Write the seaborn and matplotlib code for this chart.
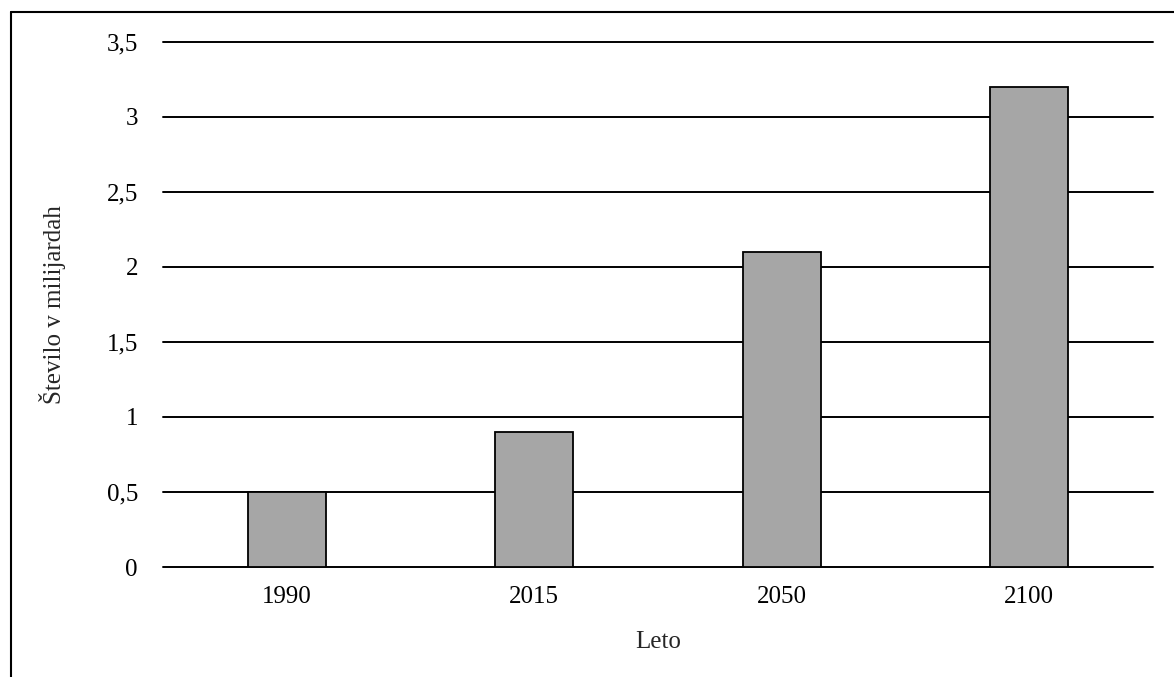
import numpy as np
import pandas as pd
import matplotlib
matplotlib.use("Agg")
import matplotlib.pyplot as plt
import seaborn as sns
from matplotlib.lines import Line2D

years = ["1990", "2015", "2050", "2100"]
values = [0.5, 0.9, 2.1, 3.2]
yticks = [0, 0.5, 1, 1.5, 2, 2.5, 3, 3.5]
ytick_labels = ["0", "0,5", "1", "1,5", "2", "2,5", "3", "3,5"]

df = pd.DataFrame({"Leto": years, "Stevilo": values})

sns.set_style("white")
plt.rcParams['font.family'] = ['Liberation Serif', 'DejaVu Serif']
plt.rcParams['font.size'] = 18

fig = plt.figure(figsize=(11.74, 6.77), dpi=100)
ax = fig.add_axes([163/1174, 1 - 567/677, 990/1174, (567 - 41.7)/677])

sns.barplot(data=df, x="Leto", y="Stevilo", color="#a6a6a6", saturation=1,
            width=0.315, edgecolor="black", linewidth=1.3, ax=ax)

ax.set_ylim(0, 3.5)
ax.set_xlim(-0.5, 3.5)
ax.set_yticks(yticks)
ax.set_yticklabels(ytick_labels)
ax.set_axisbelow(True)
ax.yaxis.grid(True, color="black", linewidth=1.4)
for gl in ax.get_ygridlines():
    gl.set_clip_on(False)
for s in ax.spines.values():
    s.set_visible(False)
ax.tick_params(axis="both", length=0, colors="black", labelsize=18)
ax.tick_params(axis="y", pad=18)
ax.tick_params(axis="x", pad=14)

ax.set_xlabel("Leto", fontsize=18)
ax.set_ylabel("Število v milijardah", fontsize=18)
ax.xaxis.set_label_coords(0.5, -0.121)
ax.yaxis.set_label_coords(-0.098, 0.5)

# outer frame (only top and left visible in the crop)
fig.add_artist(Line2D([11/1174, 11/1174], [0, 1 - 12/677], color="black", linewidth=1.5, transform=fig.transFigure))
fig.add_artist(Line2D([11/1174, 1], [1 - 12/677, 1 - 12/677], color="black", linewidth=1.5, transform=fig.transFigure))

fig.savefig("out.png", dpi=100)
